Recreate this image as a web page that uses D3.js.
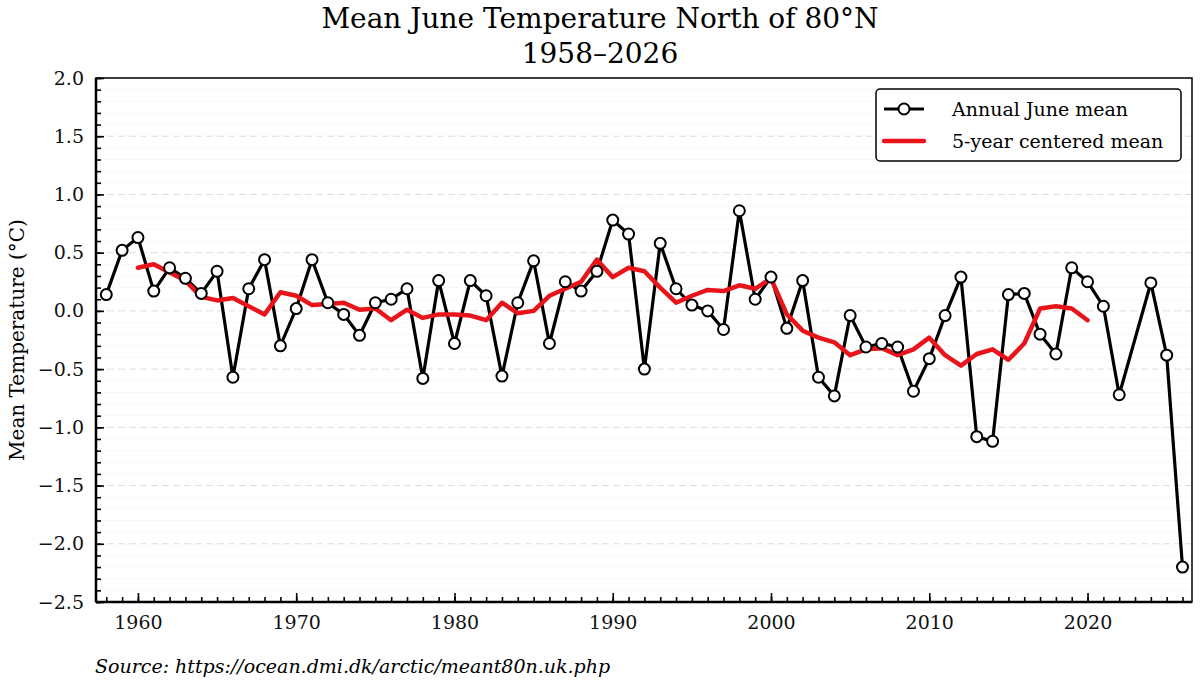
<!DOCTYPE html>
<html><head><meta charset="utf-8">
<script src="https://cdn.jsdelivr.net/npm/d3@7"></script>
<style>body{margin:0;background:#fff}svg{display:block}text{font-family:"DejaVu Serif",serif}</style>
</head><body><svg id="c" width="1200" height="683"></svg>
<script>
const years = [1958,1959,1960,1961,1962,1963,1964,1965,1966,1967,1968,1969,1970,1971,1972,1973,1974,1975,1976,1977,1978,1979,1980,1981,1982,1983,1984,1985,1986,1987,1988,1989,1990,1991,1992,1993,1994,1995,1996,1997,1998,1999,2000,2001,2002,2003,2004,2005,2006,2007,2008,2009,2010,2011,2012,2013,2014,2015,2016,2017,2018,2019,2020,2021,2022,2024,2025,2026];
const annual = [0.14,0.52,0.63,0.17,0.37,0.28,0.15,0.34,-0.57,0.19,0.44,-0.30,0.02,0.44,0.07,-0.03,-0.21,0.07,0.10,0.19,-0.58,0.26,-0.28,0.26,0.13,-0.56,0.07,0.43,-0.28,0.25,0.17,0.34,0.78,0.66,-0.50,0.58,0.19,0.05,0.00,-0.16,0.86,0.10,0.29,-0.15,0.26,-0.57,-0.73,-0.04,-0.31,-0.28,-0.31,-0.69,-0.41,-0.04,0.29,-1.08,-1.12,0.14,0.15,-0.20,-0.37,0.37,0.25,0.04,-0.72,0.24,-0.38,-2.20];
const meanYears = d3.range(1960,2021);
const mean5 = [0.37,0.40,0.33,0.26,0.12,0.09,0.11,0.04,-0.03,0.16,0.13,0.05,0.06,0.07,0.01,0.02,-0.08,0.01,-0.06,-0.03,-0.03,-0.04,-0.08,0.07,-0.02,0.00,0.13,0.19,0.25,0.44,0.29,0.37,0.34,0.20,0.07,0.13,0.18,0.17,0.22,0.19,0.28,-0.03,-0.17,-0.23,-0.27,-0.38,-0.33,-0.32,-0.38,-0.33,-0.23,-0.38,-0.47,-0.37,-0.33,-0.42,-0.28,0.02,0.04,0.02,-0.08];
const yTicks = [2.0,1.5,1.0,0.5,0.0,-0.5,-1.0,-1.5,-2.0,-2.5];
const xTicks = [1960,1970,1980,1990,2000,2010,2020];

const svg = d3.select("#c");
const L=96,R=1192,T=78,B=602;
const x = d3.scaleLinear().domain([1957.35,2026.6]).range([L,R]);
const y = d3.scaleLinear().domain([-2.5,2.0]).range([B,T]);

const g = svg.append("g");
d3.range(-24,20).forEach(i=>{ const v=i/10; if(i%5===0) return;
  g.append("line").attr("x1",L).attr("x2",R).attr("y1",y(v)).attr("y2",y(v)).attr("stroke","#eee").attr("stroke-dasharray","1.5,2.5");});
yTicks.forEach(v=>g.append("line").attr("x1",L).attr("x2",R).attr("y1",y(v)).attr("y2",y(v)).attr("stroke","#ddd").attr("stroke-dasharray","7,4"));

svg.append("rect").attr("x",L).attr("y",T).attr("width",R-L).attr("height",B-T).attr("fill","none").attr("stroke","#000").attr("stroke-width",1.5);
svg.append("line").attr("x1",L).attr("x2",L).attr("y1",T).attr("y2",B).attr("stroke","#000").attr("stroke-width",2.5);
svg.append("line").attr("x1",L).attr("x2",R).attr("y1",B).attr("y2",B).attr("stroke","#000").attr("stroke-width",2.5);

const ya = svg.append("g").attr("transform",`translate(${L},0)`).call(d3.axisLeft(y).tickValues(yTicks).tickFormat(d3.format(".1f")).tickSizeInner(-8).tickSizeOuter(0).tickPadding(12));
const yMinor = svg.append("g").attr("transform",`translate(${L},0)`).call(d3.axisLeft(y).tickValues(d3.range(-25,21).map(i=>i/10)).tickFormat("").tickSizeInner(-5).tickSizeOuter(0));
const xa = svg.append("g").attr("transform",`translate(0,${B})`).call(d3.axisBottom(x).tickValues(xTicks).tickFormat(d3.format("d")).tickSizeInner(-9).tickSizeOuter(0).tickPadding(14));
const xMinor = svg.append("g").attr("transform",`translate(0,${B})`).call(d3.axisBottom(x).tickValues(d3.range(1958,2027)).tickFormat("").tickSizeInner(-5).tickSizeOuter(0));
[ya,yMinor,xa,xMinor].forEach(a=>{a.select(".domain").remove();a.selectAll("line").attr("stroke","#000").attr("stroke-width",1.6);a.selectAll("text").attr("font-size",19).attr("fill","#111").style("font-family","DejaVu Serif");});

const pts = years.map((d,i)=>({x:d,y:annual[i]}));
svg.append("path").datum(pts).attr("d",d3.line().x(d=>x(d.x)).y(d=>y(d.y))).attr("fill","none").attr("stroke","#000").attr("stroke-width",3.2);
svg.append("path").datum(meanYears.map((d,i)=>({x:d,y:mean5[i]}))).attr("d",d3.line().x(d=>x(d.x)).y(d=>y(d.y))).attr("fill","none").attr("stroke","#e8141a").attr("stroke-width",4.5).attr("stroke-linejoin","round").attr("stroke-linecap","round");
svg.append("g").selectAll("circle").data(pts).join("circle").attr("cx",d=>x(d.x)).attr("cy",d=>y(d.y)).attr("r",5.5).attr("fill","#fff").attr("stroke","#000").attr("stroke-width",2);

const lg = svg.append("g").attr("transform","translate(876,89)");
lg.append("rect").attr("width",305).attr("height",72).attr("rx",4).attr("fill","#fff").attr("stroke","#000").attr("stroke-width",1.5);
lg.append("line").attr("x1",8).attr("x2",48).attr("y1",20).attr("y2",20).attr("stroke","#000").attr("stroke-width",3);
lg.append("circle").attr("cx",28).attr("cy",20).attr("r",5.5).attr("fill","#fff").attr("stroke","#000").attr("stroke-width",2);
lg.append("line").attr("x1",8).attr("x2",48).attr("y1",52).attr("y2",52).attr("stroke","#e8141a").attr("stroke-width",4.5).attr("stroke-linecap","round");
lg.append("text").attr("x",76).attr("y",27).attr("font-size",19).text("Annual June mean");
lg.append("text").attr("x",76).attr("y",59).attr("font-size",19).text("5-year centered mean");

svg.append("text").attr("x",600).attr("y",28).attr("text-anchor","middle").attr("font-size",28).text("Mean June Temperature North of 80°N");
svg.append("text").attr("x",600).attr("y",63).attr("text-anchor","middle").attr("font-size",28).text("1958–2026");
svg.append("text").attr("transform",`translate(24,${(T+B)/2}) rotate(-90)`).attr("text-anchor","middle").attr("font-size",20).text("Mean Temperature (°C)");
svg.append("text").attr("x",95).attr("y",673).attr("font-size",19).attr("font-style","italic").text("Source: https://ocean.dmi.dk/arctic/meant80n.uk.php");
</script></body></html>
